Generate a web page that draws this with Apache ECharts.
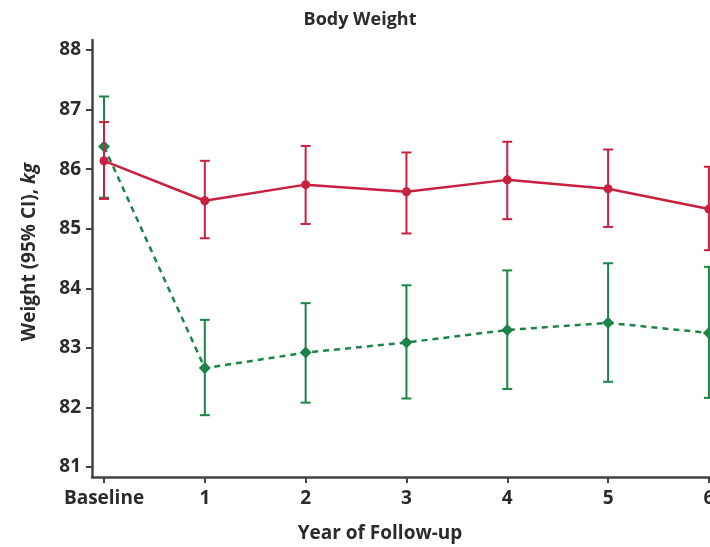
<!DOCTYPE html>
<html>
<head>
<meta charset="utf-8">
<script src="https://cdn.jsdelivr.net/npm/echarts@6/dist/echarts.min.js"></script>
<style>
html,body{margin:0;padding:0;background:#fff;}
#chart{width:710px;height:547px;}
</style>
</head>
<body>
<div id="chart"></div>
<script>
const categories = ['Baseline', '1', '2', '3', '4', '5', '6'];
const xTicks = [0, 1, 2, 3, 4, 5, 6];
const yTicks = [81, 82, 83, 84, 85, 86, 87, 88];
const redMean = [86.14, 85.47, 85.74, 85.62, 85.82, 85.67, 85.33];
const redLow  = [85.50, 84.84, 85.08, 84.92, 85.16, 85.03, 84.64];
const redHigh = [86.79, 86.14, 86.39, 86.28, 86.46, 86.33, 86.04];
const greenMean = [86.38, 82.66, 82.92, 83.09, 83.30, 83.42, 83.25];
const greenLow  = [85.52, 81.87, 82.08, 82.15, 82.31, 82.43, 82.16];
const greenHigh = [87.22, 83.47, 83.75, 84.05, 84.30, 84.42, 84.36];

const RED = '#c8203f';
const GREEN = '#1b8547';
const TXT = '#2b2b2b';
const FONT = '"Open Sans", "DejaVu Sans", sans-serif';

function errData(low, high) {
  return xTicks.map((x, i) => [x, low[i], high[i]]);
}
function errRender(color) {
  return function (params, api) {
    const x = api.value(0);
    const lo = api.coord([x, api.value(1)]);
    const hi = api.coord([x, api.value(2)]);
    const cw = 5;
    const style = { stroke: color, lineWidth: 2, fill: null };
    return {
      type: 'group',
      children: [
        { type: 'line', shape: { x1: lo[0], y1: lo[1], x2: hi[0], y2: hi[1] }, style },
        { type: 'line', shape: { x1: lo[0] - cw, y1: lo[1], x2: lo[0] + cw, y2: lo[1] }, style },
        { type: 'line', shape: { x1: hi[0] - cw, y1: hi[1], x2: hi[0] + cw, y2: hi[1] }, style }
      ]
    };
  };
}

const chart = echarts.init(document.getElementById('chart'), null, { renderer: 'canvas' });
chart.setOption({
  animation: false,
  backgroundColor: '#fff',
  title: {
    text: 'Body Weight',
    left: 355, top: 6, textAlign: 'center',
    textStyle: { fontFamily: FONT, fontWeight: 'bold', fontSize: 18, color: TXT }
  },
  grid: { left: 92, top: 40, width: 630, height: 437, containLabel: false, outerBoundsMode: 'none' },
  xAxis: {
    type: 'value', min: -0.119, max: 6.13,
    axisLine: { show: true, onZero: false, lineStyle: { color: '#444', width: 2.5 } },
    axisTick: { show: true, length: 6, customValues: xTicks, lineStyle: { color: '#444', width: 2 } },
    axisLabel: { show: true, margin: 12, customValues: xTicks, fontFamily: FONT, fontWeight: 'bold', fontSize: 19, color: TXT,
      hideOverlap: false, formatter: v => categories[Math.round(v)] },
    splitLine: { show: false }
  },
  yAxis: {
    type: 'value', min: 80.832, max: 88.168,
    axisLine: { show: true, onZero: false, lineStyle: { color: '#444', width: 2.5 } },
    axisTick: { show: true, length: 6, customValues: yTicks, lineStyle: { color: '#444', width: 2 } },
    axisLabel: { show: true, margin: 11, customValues: yTicks, fontFamily: FONT, fontWeight: 'bold', fontSize: 19, color: TXT },
    splitLine: { show: false }
  },
  graphic: [
    { type: 'text', x: 380, y: 534, style: { text: 'Year of Follow-up', fontFamily: FONT, fontWeight: 'bold', fontSize: 19,
        fill: TXT, align: 'center', verticalAlign: 'middle' } },
    { type: 'text', x: 30, y: 252, rotation: Math.PI / 2,
      style: { text: 'Weight (95% CI), {i|kg}', fontFamily: FONT, fontWeight: 'bold', fontSize: 19,
        fill: TXT, align: 'center', verticalAlign: 'middle',
        rich: { i: { fontStyle: 'italic', fontFamily: FONT, fontWeight: 'bold', fontSize: 19, fill: TXT } } } }
  ],
  series: [
    { type: 'custom', renderItem: errRender(GREEN), data: errData(greenLow, greenHigh), z: 2 },
    { type: 'line', data: xTicks.map((x, i) => [x, greenMean[i]]),
      symbol: 'diamond', symbolSize: 12, itemStyle: { color: GREEN },
      lineStyle: { color: GREEN, width: 2.5, type: [6, 5] }, z: 3 },
    { type: 'custom', renderItem: errRender(RED), data: errData(redLow, redHigh), z: 4 },
    { type: 'line', data: xTicks.map((x, i) => [x, redMean[i]]),
      symbol: 'circle', symbolSize: 9, itemStyle: { color: RED },
      lineStyle: { color: RED, width: 2.5 }, z: 5 }
  ]
});
</script>
</body>
</html>
